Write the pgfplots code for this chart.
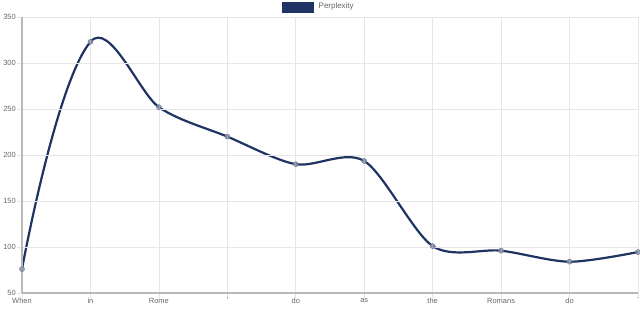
\documentclass[border=0pt]{standalone}
\usepackage{pgfplots}
\usepackage{pgfplotstable}
\pgfplotsset{compat=1.18}
\usepackage{fontspec}
\setmainfont{Liberation Sans}
\definecolor{navy}{HTML}{1F3463}
\definecolor{txt}{HTML}{666666}
\definecolor{gridc}{HTML}{E6E6E6}
\definecolor{axc}{HTML}{B8B8B8}
\definecolor{mk}{HTML}{8A95AD}
\pgfplotstableread{
x y
0 76
1 323
2 252
3 220
4 190
5 193.5
6 101
7 96
8 84
9 94.5
}\data
\pgfplotsset{
  lineaxis/.style={scale only axis, anchor=south west, height=276bp,
    ymin=50, ymax=350, hide axis, clip=true},
}
\begin{document}
\begin{tikzpicture}[x=1bp,y=1bp]
\useasboundingbox (-22bp,-16bp) rectangle (618bp,293bp);
% line, first segment (When -> in)
\begin{axis}[lineaxis, at={(-20.533bp,0)}, width=88.978bp, xmin=-0.3, xmax=1]
\addplot[navy, line width=2.2bp, smooth, tension=0.9, no marks] table[x=x,y=y] {\data};
\end{axis}
% line, rest
\begin{axis}[lineaxis, at={(68.444bp,0)}, width=568.09bp, xmin=1, xmax=9.3]
\addplot[navy, line width=2.2bp, smooth, tension=0.5, no marks] table[x=x,y=y] {\data};
\end{axis}
\begin{axis}[
  at={(0,0)}, anchor=south west,
  scale only axis,
  width=616bp, height=276bp,
  xmin=0, xmax=9, ymin=50, ymax=350,
  xtick={0,...,9},
  xticklabels={When,in,Rome,{,},do,as,the,Romans,do,.},
  ytick={50,100,...,350},
  grid=major,
  major grid style={gridc, line width=0.6bp},
  axis line style={draw=none},
  axis lines*=left,
  tick align=outside,
  major tick length=5bp,
  tick style={gridc, line width=0.6bp},
  every tick label/.append style={font=\fontsize{7.5}{8}\selectfont, text=txt},
  yticklabel style={inner sep=1bp},
  xticklabel style={inner sep=1bp, yshift=1bp},
  /pgf/number format/assume math mode=true,
  clip=false,
  axis on top=false,
  legend style={at={(297bp,292bp)}, anchor=north, draw=none, fill=none,
    font=\fontsize{8}{9}\selectfont, text=txt, inner sep=0pt,
    legend cell align=left},
  legend image code/.code={\fill[navy] (0bp,-5bp) rectangle (31bp,5bp);},
]
\draw[axc, line width=1.2bp] (axis cs:0,50) -- (axis cs:0,350);
\draw[axc, line width=1.2bp] (axis cs:0,50) -- (axis cs:9,50);
\addplot[only marks, mark=*, mark size=2.5bp,
  mark options={fill=mk, draw=mk!80!black, line width=0.5bp, fill opacity=0.8}]
  table[x=x,y=y] {\data};
\addlegendentry{\hspace{3bp}Perplexity}
\end{axis}
\end{tikzpicture}
\end{document}
